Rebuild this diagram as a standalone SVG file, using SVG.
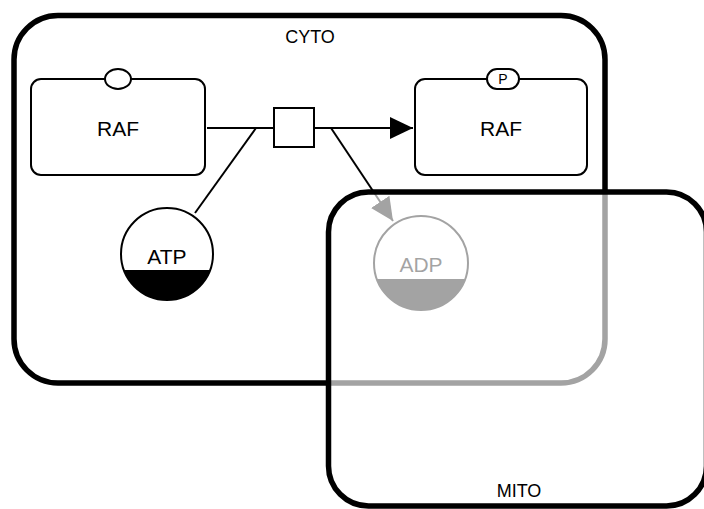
<svg xmlns="http://www.w3.org/2000/svg" width="704" height="509" viewBox="0 0 704 509">
<defs>
<marker id="arrow" markerWidth="24" markerHeight="22" refX="23" refY="11" orient="auto" markerUnits="userSpaceOnUse">
<path d="M0,0 L23,11 L0,22 Z" fill="#000"/>
</marker>
<clipPath id="atpClip"><rect x="100" y="270" width="140" height="60"/></clipPath>
<clipPath id="adpClip"><rect x="360" y="279" width="140" height="60"/></clipPath>
</defs>
<style>
text{font-family:"Liberation Sans",Arial,sans-serif;fill:#000;text-anchor:middle}
.comp{stroke:#000;stroke-width:5.5}
.cyto{fill:#fff}
.mito{fill:#fff;fill-opacity:0.64}
.node{fill:#fff;stroke:#000;stroke-width:2}
.edge{fill:none;stroke:#000;stroke-width:2}
.lbl{font-size:21px}
.clbl{font-size:18px}
.sv{font-size:14px}
</style>
<g id="CYTO">
<rect class="comp cyto" x="14" y="15.5" width="591" height="367.5" rx="44" ry="44"/>
<text class="clbl" x="310" y="43">CYTO</text>
</g>
<g id="connectors">
<line class="edge" x1="207" y1="128" x2="274" y2="128"/>
<line class="edge" x1="256" y1="128" x2="195" y2="213"/>
<line class="edge" x1="314" y1="128" x2="413" y2="128" marker-end="url(#arrow)"/>
<line class="edge" x1="331" y1="128" x2="393" y2="221" marker-end="url(#arrow)"/>
</g>
<g id="RAF1">
<rect class="node" x="31" y="79" width="174" height="96" rx="10" ry="10"/>
<ellipse class="node" cx="118" cy="79" rx="13" ry="10"/>
<text class="lbl" x="118" y="136">RAF</text>
</g>
<g id="RAF2">
<rect class="node" x="415" y="79" width="172" height="96" rx="10" ry="10"/>
<rect class="node" x="487" y="69" width="32" height="20" rx="10" ry="10"/>
<text class="sv" x="503" y="84">P</text>
<text class="lbl" x="501" y="136">RAF</text>
</g>
<g id="process">
<rect class="node" x="274" y="108" width="40" height="39"/>
</g>
<g id="ATP">
<circle class="node" cx="167" cy="254" r="46"/>
<circle cx="167" cy="254" r="46" fill="#000" clip-path="url(#atpClip)"/>
<text class="lbl" x="167" y="264">ATP</text>
</g>
<g id="ADP">
<circle class="node" cx="421" cy="263" r="47"/>
<circle cx="421" cy="263" r="47" fill="#000" clip-path="url(#adpClip)"/>
<text class="lbl" x="421" y="272">ADP</text>
</g>
<g id="MITO">
<rect class="comp mito" x="328.5" y="192" width="378" height="314" rx="40" ry="40"/>
<text class="clbl" x="519" y="497">MITO</text>
</g>
</svg>
